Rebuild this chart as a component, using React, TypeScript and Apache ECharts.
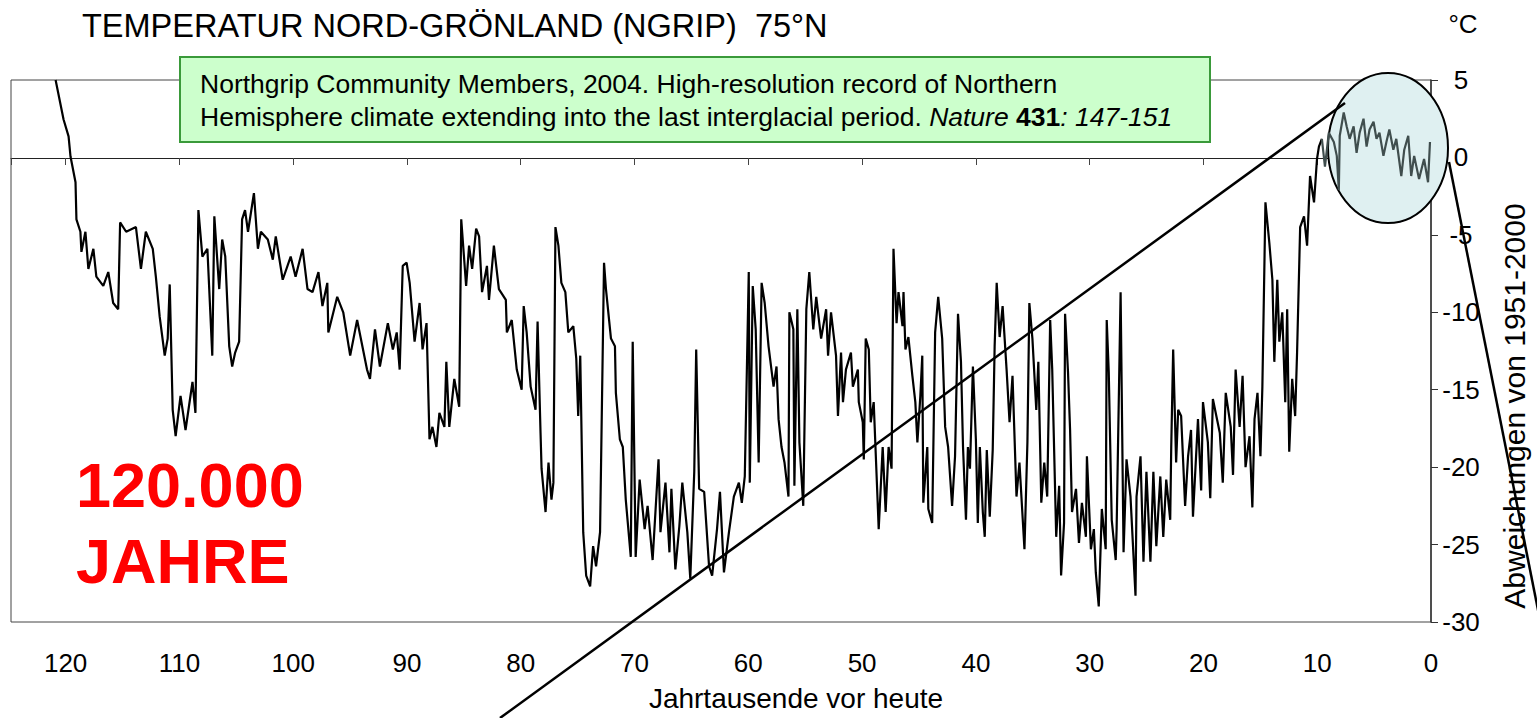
import React, { useEffect, useRef } from "react";
import * as echarts from "echarts";

// ---- data: [kyr before present, temperature deviation °C] ----
const eemianToEarlyGlacial: [number, number][] = [
  [120.88, 5.0], [120.18, 2.45], [119.74, 1.36], [119.57, 0.06], [119.13, -1.6], [119.05, -4.0], [118.7, -4.8], [118.61, -6.1],
  [118.26, -4.8], [118.0, -7.2], [117.56, -5.9], [117.3, -7.7], [116.69, -8.3], [116.25, -7.4], [115.82, -9.4], [115.38, -9.8],
  [115.21, -4.2], [114.68, -4.8], [113.82, -4.5], [113.38, -7.2], [112.95, -4.8], [112.34, -5.9], [112.07, -7.7], [111.73, -10.3],
  [111.29, -12.8], [111.03, -11.7], [110.85, -8.2], [110.59, -16.3], [110.33, -18.0], [109.9, -15.4], [109.46, -17.6], [108.85, -14.5],
  [108.59, -16.5], [108.33, -3.4], [107.98, -6.4], [107.54, -5.9], [107.11, -12.8], [106.93, -3.8], [106.5, -8.5], [106.24, -5.3],
  [105.97, -6.4], [105.62, -12.2], [105.36, -13.5], [105.1, -12.6], [104.75, -11.9], [104.49, -4.0], [104.23, -3.4], [103.97, -4.8],
  [103.45, -2.3], [103.1, -5.9], [102.84, -4.8], [102.23, -5.3], [101.79, -6.6], [101.53, -5.1], [100.92, -7.9], [100.22, -6.4],
];
const glacial100to80: [number, number][] = [
  [99.79, -7.7], [99.17, -5.9], [98.74, -8.5], [98.3, -8.7], [97.78, -7.4], [97.43, -9.6], [97.0, -8.1], [96.91, -11.3],
  [96.13, -9.0], [95.6, -10.0], [94.99, -12.8], [94.38, -10.5], [93.51, -13.7], [93.25, -14.3], [92.81, -11.1], [92.38, -13.5],
  [91.68, -10.7], [91.24, -12.4], [90.9, -11.3], [90.64, -13.7], [90.37, -7.0], [90.03, -6.8], [89.76, -8.1], [89.33, -11.9],
  [88.89, -9.4], [88.63, -12.4], [88.28, -10.7], [88.02, -18.2], [87.76, -17.4], [87.41, -18.7], [87.15, -16.5], [86.71, -17.4],
  [86.54, -13.2], [86.28, -17.4], [85.84, -14.3], [85.41, -16.1], [85.23, -4.0], [84.8, -8.3], [84.54, -5.7], [84.27, -7.2],
  [83.92, -4.6], [83.66, -5.1], [83.4, -8.7], [82.97, -7.0], [82.79, -9.2], [82.36, -5.7], [81.92, -8.5], [81.31, -9.2],
  [81.22, -11.3], [80.79, -10.5], [80.35, -13.7],
];
const glacial80to60: [number, number][] = [
  [79.92, -15.0], [79.74, -9.6], [79.48, -11.3], [79.13, -14.8], [78.7, -16.3], [78.52, -10.6], [78.26, -17.8], [78.17, -20.1],
  [77.82, -22.9], [77.56, -19.7], [77.3, -22.1], [77.13, -21.0], [76.95, -4.5], [76.69, -5.7], [76.43, -8.1], [76.08, -8.7],
  [75.82, -11.3], [75.38, -10.9], [75.12, -13.0], [74.95, -16.7], [74.77, -12.8], [74.51, -24.2], [74.25, -27.0], [73.9, -27.7],
  [73.64, -25.1], [73.38, -26.4], [73.03, -24.2], [72.68, -6.8], [72.51, -8.5], [72.07, -11.7], [71.72, -12.2], [71.64, -15.2],
  [71.29, -18.2], [71.03, -18.7], [70.77, -22.1], [70.33, -25.8], [70.16, -11.9], [69.9, -25.8], [69.55, -20.8], [69.11, -24.0],
  [68.85, -22.5], [68.41, -26.0], [67.89, -19.5], [67.72, -24.2], [67.28, -21.0], [66.93, -25.5], [66.76, -21.4], [66.41, -26.6],
  [66.06, -23.8], [65.8, -21.0], [65.36, -24.2], [65.1, -27.2], [64.75, -20.3], [64.58, -12.4], [64.32, -21.4], [63.88, -21.6],
  [63.45, -26.4], [63.18, -27.0], [62.75, -24.0], [62.49, -21.6], [62.14, -26.8], [61.7, -24.2], [61.27, -21.9], [60.83, -21.0],
  [60.57, -22.3], [60.31, -20.6],
];
const glacial60to40: [number, number][] = [
  [59.96, -7.4], [59.87, -21.0], [59.61, -8.3], [59.35, -11.1], [59.09, -19.7], [58.83, -8.1], [58.56, -9.4], [58.22, -12.2],
  [57.78, -14.8], [57.52, -13.5], [57.34, -16.9], [57.08, -18.7], [56.82, -19.7], [56.47, -21.9], [56.39, -10.0], [56.04, -11.1],
  [55.95, -21.2], [55.69, -9.8], [55.51, -18.4], [55.17, -22.5], [54.9, -9.8], [54.64, -7.4], [54.29, -11.1], [54.03, -9.0],
  [53.6, -11.7], [53.16, -9.8], [52.99, -12.8], [52.73, -10.0], [52.29, -12.8], [52.12, -16.7], [51.85, -12.6], [51.68, -15.8],
  [51.42, -13.7], [50.98, -12.6], [50.81, -14.8], [50.37, -13.7], [50.29, -15.8], [49.94, -17.1], [49.85, -19.5], [49.68, -11.7],
  [49.41, -12.4], [49.24, -17.1], [48.98, -15.8], [48.63, -22.3], [48.54, -24.0], [48.19, -18.7], [47.93, -22.9], [47.67, -18.7],
  [47.41, -20.1], [47.24, -5.9], [46.97, -10.7], [46.8, -8.7], [46.45, -10.9], [46.36, -8.7], [46.19, -12.4], [45.93, -11.6],
  [45.58, -14.1], [45.32, -15.8], [45.14, -18.4], [44.88, -15.4], [44.71, -12.8], [44.62, -22.3], [44.27, -18.7], [44.18, -22.7],
  [43.84, -23.6], [43.58, -11.3], [43.31, -9.0], [42.96, -11.7], [42.7, -17.4], [42.44, -18.7], [42.09, -22.5], [41.83, -19.3],
  [41.57, -10.1], [41.31, -13.2], [41.13, -18.7], [40.87, -23.4], [40.7, -18.7], [40.52, -20.1], [40.26, -13.5],
];
const glacial40to20: [number, number][] = [
  [40.0, -18.2], [39.83, -23.6], [39.65, -18.7], [39.39, -22.9], [39.22, -24.5], [39.04, -18.9], [38.78, -23.2], [38.52, -18.9],
  [38.35, -12.2], [38.17, -8.1], [37.91, -11.6], [37.65, -9.6], [37.3, -13.7], [37.04, -17.1], [36.78, -14.1], [36.43, -21.9],
  [36.17, -19.7], [35.73, -25.3], [35.47, -18.4], [35.3, -9.4], [35.03, -11.7], [34.69, -16.3], [34.51, -13.2], [34.25, -22.3],
  [33.99, -19.7], [33.73, -21.9], [33.47, -10.5], [33.29, -13.7], [32.94, -24.5], [32.68, -21.2], [32.51, -27.0], [32.25, -23.6],
  [32.16, -10.1], [31.9, -13.9], [31.72, -17.6], [31.55, -22.9], [31.2, -21.4], [30.94, -24.9], [30.68, -22.3], [30.33, -24.5],
  [30.24, -19.3], [29.89, -25.3], [29.63, -24.0], [29.46, -26.8], [29.2, -29.0], [28.93, -22.7], [28.59, -25.3], [28.5, -10.5],
  [28.32, -13.9], [28.06, -23.4], [27.71, -26.0], [27.63, -24.0], [27.28, -8.7], [27.02, -25.5], [26.76, -19.5], [26.41, -21.9],
  [25.97, -28.3], [25.88, -21.9], [25.53, -19.3], [25.27, -26.1], [25.01, -20.3], [24.66, -26.1], [24.4, -20.3], [24.14, -25.1],
  [23.79, -20.6], [23.53, -24.5], [23.27, -20.8], [22.92, -23.4], [22.83, -18.7], [22.66, -12.4], [22.4, -19.7], [22.22, -16.3],
  [21.96, -16.7], [21.61, -22.5], [21.35, -19.3], [21.09, -17.6], [20.92, -23.2], [20.48, -16.9],
];
const deglaciation: [number, number][] = [
  [20.2, -21.5], [20.04, -15.8], [19.61, -18.4], [19.4, -22.0], [19.17, -15.6], [18.56, -17.8], [18.3, -21.0], [18.04, -15.2],
  [17.6, -17.4], [17.4, -20.5], [17.17, -13.7], [16.82, -17.4], [16.56, -14.1], [16.3, -20.0], [15.95, -18.0], [15.7, -22.6],
  [15.51, -16.9], [15.25, -15.2], [14.99, -19.3], [14.82, -14.8], [14.55, -2.9], [14.21, -5.5], [13.94, -7.9], [13.77, -13.2],
  [13.51, -7.9], [13.33, -11.9], [13.07, -10.0], [12.81, -15.8], [12.64, -9.8], [12.46, -19.0], [12.2, -14.3], [11.94, -16.7],
  [11.77, -12.6], [11.5, -4.5], [11.16, -3.8], [10.89, -5.7], [10.63, -1.2], [10.28, -2.9], [10.02, -0.1], [9.85, 0.7], [9.59, 1.2],
];
const holocene: [number, number][] = [
  [9.59, 1.2], [9.32, -0.6], [8.98, 1.6], [8.54, 1.0], [8.28, 0.1], [8.1, -2.1], [8.02, 1.4], [7.67, 2.9], [7.41, 2.0],
  [7.15, 1.2], [6.8, 2.0], [6.54, 0.3], [6.27, 1.6], [5.93, 2.5], [5.66, 0.7], [5.4, 1.8], [5.05, 2.3], [4.79, 1.2],
  [4.53, 1.6], [4.18, 0.1], [3.92, 1.0], [3.66, 1.8], [3.31, 0.5], [3.05, 1.2], [2.61, -1.2], [2.35, 0.5], [2.0, 1.4],
  [1.74, -1.2], [1.48, 0.1], [1.05, -1.4], [0.61, -0.1], [0.26, -1.6], [0.09, 1.0],
];

const xMin = 0;
const xMax = 124.8;
const xStep = 10;
const yMin = -30;
const yMax = 5;
const yStep = 5;

const titleText = "TEMPERATUR NORD-GRÖNLAND (NGRIP)  75°N";
const unitText = "°C";
const refLine1 = "Northgrip Community Members, 2004. High-resolution record of Northern";
const refLine2 = "Hemisphere climate extending into the last interglacial period. {i|Nature} {b|431}{i|: 147-151}";
const bigText1 = "120.000";
const bigText2 = "JAHRE";
const xName = "Jahrtausende vor heute";
const yName = "Abweichungen von 1951-2000";

const FONT = "'Liberation Sans', Arial, Helvetica, sans-serif";

export default function App() {
  const ref = useRef<HTMLDivElement>(null);
  useEffect(() => {
    if (!ref.current) return;
    const chart = echarts.init(ref.current, null, { renderer: "svg" });
    const glacial = [
      ...eemianToEarlyGlacial,
      ...glacial100to80,
      ...glacial80to60,
      ...glacial60to40,
      ...glacial40to20,
      ...deglaciation,
    ];
    const option: any = {
      animation: false,
      backgroundColor: "#ffffff",
      grid: { left: 11, right: 97, top: 80, bottom: 96, show: true, borderColor: "#444", borderWidth: 1 },
      xAxis: [
        {
          type: "value", min: xMin, max: xMax, interval: xStep, inverse: true, position: "bottom",
          axisLine: { show: false, onZero: false },
          axisTick: { show: false, length: 0, lineStyle: { width: 0 } },
          splitLine: { show: false },
          axisLabel: {
            fontSize: 26, color: "#000", fontFamily: FONT, margin: 28, showMaxLabel: false,
            formatter: (v: number) => (v % xStep === 0 ? String(v) : ""),
          },
          name: xName, nameLocation: "middle", nameGap: 62,
          nameTextStyle: { fontSize: 28, color: "#000", fontFamily: FONT, padding: [0, 0, 0, 150] },
        },
        {
          type: "value", min: xMin, max: xMax, interval: xStep, inverse: true, position: "top", offset: -78,
          axisLine: { show: true, onZero: false, lineStyle: { color: "#222", width: 1 } },
          axisTick: { show: true, inside: true, length: 7, lineStyle: { color: "#444" } },
          axisLabel: { show: false }, splitLine: { show: false },
        },
      ],
      yAxis: {
        type: "value", position: "right", min: yMin, max: yMax, interval: yStep,
        axisLine: { show: true, onZero: false, lineStyle: { color: "#333", width: 1.5 } },
        axisTick: { show: true, length: 7, lineStyle: { color: "#333" } },
        splitLine: { show: false },
        axisLabel: { fontSize: 26, color: "#000", fontFamily: FONT, margin: 30, align: "center" },
        name: yName, nameLocation: "middle", nameRotate: 90, nameGap: 68,
        nameTextStyle: { fontSize: 30, color: "#000", fontFamily: FONT, padding: [0, 110, 0, 0] },
      },
      series: [
        {
          type: "line", data: glacial, xAxisIndex: 0, yAxisIndex: 0, symbol: "none", z: 3,
          lineStyle: { color: "#000", width: 2.2 },
        },
        {
          type: "line", data: holocene, xAxisIndex: 0, yAxisIndex: 0, symbol: "none", z: 4,
          lineStyle: { color: "#404e4e", width: 2.2 },
        },
      ],
      graphic: [
        { type: "ellipse", z: 1, shape: { cx: 1388, cy: 148, rx: 60, ry: 75 }, style: { fill: "#dff0f1", stroke: "#000", lineWidth: 2 } },
        { type: "text", x: 82, y: 26, style: { text: titleText, fontSize: 32.5, fontFamily: FONT, fill: "#000", verticalAlign: "middle" } },
        { type: "text", x: 1463, y: 24, style: { text: unitText, fontSize: 26, fontFamily: FONT, fill: "#000", align: "center", verticalAlign: "middle" } },
        { type: "rect", z: 10, shape: { x: 180, y: 57, width: 1030, height: 85 }, style: { fill: "#ccffcc", stroke: "#3a9a3a", lineWidth: 2 } },
        { type: "text", z: 11, x: 200, y: 84, style: { text: refLine1, fontSize: 26.5, fontFamily: FONT, fill: "#000", verticalAlign: "middle" } },
        {
          type: "text", z: 11, x: 200, y: 117,
          style: {
            text: refLine2, fontSize: 26.5, fontFamily: FONT, fill: "#000", verticalAlign: "middle",
            rich: {
              i: { fontStyle: "italic", fontSize: 26.5, fontFamily: FONT, fill: "#000" },
              b: { fontWeight: "bold", fontSize: 26.5, fontFamily: FONT, fill: "#000" },
            },
          },
        },
        { type: "text", z: 11, x: 76, y: 485, style: { text: bigText1, fontSize: 63, fontWeight: "bold", fontFamily: FONT, fill: "#ff0000", verticalAlign: "middle" } },
        { type: "text", z: 11, x: 76, y: 561, style: { text: bigText2, fontSize: 63, fontWeight: "bold", fontFamily: FONT, fill: "#ff0000", verticalAlign: "middle" } },
        { type: "line", z: 100, shape: { x1: 500, y1: 718, x2: 1345, y2: 103 }, style: { stroke: "#000", lineWidth: 2.5 } },
        { type: "line", z: 100, shape: { x1: 1449, y1: 162, x2: 1540, y2: 620 }, style: { stroke: "#000", lineWidth: 2.5 } },
      ],
    };
    chart.setOption(option);
    return () => chart.dispose();
  }, []);
  return <div ref={ref} style={{ position: "absolute", left: 0, top: 0, width: 1537, height: 718 }} />;
}
